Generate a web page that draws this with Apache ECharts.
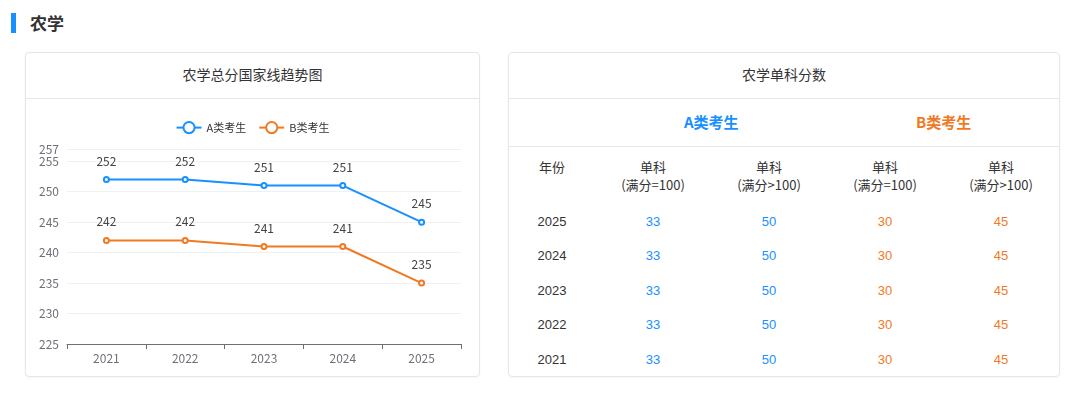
<!DOCTYPE html>
<html>
<head>
<meta charset="utf-8">
<script src="https://cdn.jsdelivr.net/npm/echarts@6/dist/echarts.min.js"></script>
<style>
  body { margin: 0; width: 1080px; height: 398px; background: #fff; font-family: "Noto Sans CJK SC", "Noto Sans", sans-serif; position: relative; overflow: hidden; }
  .head-bar { position: absolute; left: 11px; top: 13px; width: 5px; height: 20px; background: #1890ff; }
  .head-text { position: absolute; left: 30px; top: 11px; font-size: 17px; font-weight: bold; color: #333; line-height: 24px; }
  .card { position: absolute; top: 52px; height: 325px; border: 1px solid #e6e6e6; border-radius: 4px; box-sizing: border-box; box-shadow: 0 1px 3px rgba(0,0,0,0.04); }
  .card-title { height: 45px; line-height: 42px; text-align: center; font-size: 14px; color: #333; border-bottom: 1px solid #e6e6e6; }
  #left { left: 25px; width: 455px; }
  #right { left: 508px; width: 552px; }
  .chart { position: absolute; left: 0; top: 46px; width: 453px; height: 278px; }
  .groups { height: 47px; border-bottom: 1px solid #e6e6e6; position: relative; font-weight: bold; font-size: 15px; }
  .groups span { position: absolute; top: 12px; }
  table { border-collapse: collapse; width: 100%; font-size: 13px; }
  td { text-align: center; padding: 0; height: 34.5px; font-family: "Liberation Sans", Arial, sans-serif; }
  .hd td { color: #333; height: 46px; vertical-align: top; padding-top: 11px; line-height: 18px; font-family: "Noto Sans CJK SC", sans-serif; font-size: 13px; }
  .yr { color: #333; }
  .ca { color: #1890ff; }
  .cb { color: #f07a24; }
</style>
</head>
<body>
<div class="head-bar"></div>
<div class="head-text">农学</div>

<div class="card" id="left">
  <div class="card-title">农学总分国家线趋势图</div>
  <div class="chart" id="lineChart"></div>
</div>

<div class="card" id="right">
  <div class="card-title">农学单科分数</div>
  <div class="groups">
    <span style="left:175px;color:#1890ff">A类考生</span>
    <span style="left:407px;color:#f07a24">B类考生</span>
  </div>
  <table id="scoreTable"></table>
</div>

<script>
// 总分国家线
const years = ['2021', '2022', '2023', '2024', '2025']
const scoreA = [252, 252, 251, 251, 245]
const scoreB = [242, 242, 241, 241, 235]

// 单科分数（表格）
const tableYears = ['2025', '2024', '2023', '2022', '2021']
const singleA100 = [33, 33, 33, 33, 33]
const singleAOver = [50, 50, 50, 50, 50]
const singleB100 = [30, 30, 30, 30, 30]
const singleBOver = [45, 45, 45, 45, 45]

const blue = '#1890ff'
const orange = '#f07a24'

const myChart = echarts.init(document.getElementById('lineChart'))
const option = {
  textStyle: { fontFamily: 'Noto Sans CJK SC' },
  legend: {
    top: 17,
    left: 'center',
    itemWidth: 25,
    itemHeight: 14,
    itemGap: 12,
    textStyle: { color: '#333', fontSize: 11 },
    data: ['A类考生', 'B类考生']
  },
  grid: { left: 41, right: 18, top: 50, bottom: 33 },
  xAxis: {
    type: 'category',
    boundaryGap: true,
    data: years,
    axisLine: { lineStyle: { color: '#6e7079' } },
    axisTick: { show: true, lineStyle: { color: '#6e7079' } },
    axisLabel: { color: '#6e7079', fontSize: 12, margin: 8 }
  },
  yAxis: {
    type: 'value',
    min: 225,
    max: 257,
    interval: 5,
    axisLine: { show: false },
    axisTick: { show: false },
    axisLabel: { color: '#6e7079', fontSize: 12, margin: 8 },
    splitLine: { lineStyle: { color: '#eef0f3' } }
  },
  series: [
    {
      name: 'A类考生',
      type: 'line',
      data: scoreA,
      symbol: 'emptyCircle',
      symbolSize: 5,
      itemStyle: { color: blue },
      lineStyle: { color: blue, width: 2 },
      label: { show: true, position: 'top', color: '#444', fontSize: 12, distance: 9 }
    },
    {
      name: 'B类考生',
      type: 'line',
      data: scoreB,
      symbol: 'emptyCircle',
      symbolSize: 5,
      itemStyle: { color: orange },
      lineStyle: { color: orange, width: 2 },
      label: { show: true, position: 'top', color: '#444', fontSize: 12, distance: 9 }
    }
  ]
}
myChart.setOption(option)

// 表格
let html = '<tr class="hd"><td style="width:86px">年份</td>' +
  '<td>单科<br>(满分=100)</td><td>单科<br>(满分&gt;100)</td>' +
  '<td>单科<br>(满分=100)</td><td>单科<br>(满分&gt;100)</td></tr>'
tableYears.forEach((y, i) => {
  html += '<tr><td class="yr">' + y + '</td>' +
    '<td class="ca">' + singleA100[i] + '</td>' +
    '<td class="ca">' + singleAOver[i] + '</td>' +
    '<td class="cb">' + singleB100[i] + '</td>' +
    '<td class="cb">' + singleBOver[i] + '</td></tr>'
})
document.getElementById('scoreTable').innerHTML = html
</script>
</body>
</html>
